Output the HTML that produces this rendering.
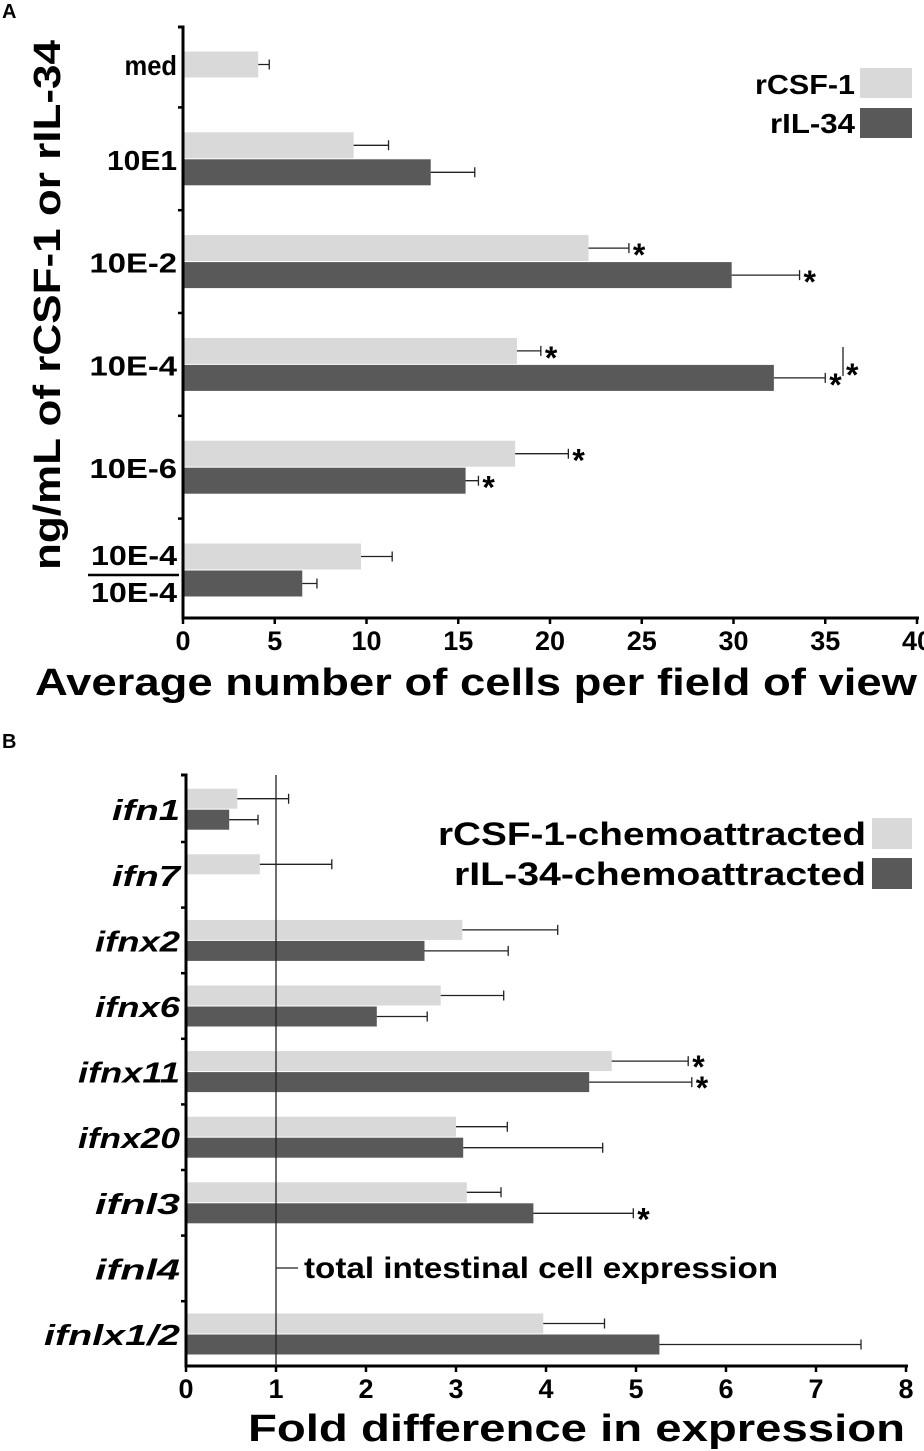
<!DOCTYPE html>
<html><head><meta charset="utf-8"><style>
body{margin:0;background:#fff}
svg{display:block;font-family:"Liberation Sans",Arial,sans-serif;font-weight:bold}
</style></head><body>
<svg id="fig" width="924" height="1451" viewBox="0 0 924 1451">
<text x="2" y="18" font-size="20">A</text>
<text x="2" y="748" font-size="20">B</text>
<g id="ga"></g>
<g id="gb"></g>
</svg>
<script>
const catsA=["med","10E1","10E-2","10E-4","10E-6","10E-4/10E-4"];
const csfA=[4.1,9.3,22.1,18.2,18.1,9.7];
const csfErrA=[4.7,11.2,24.3,19.5,21.0,11.4];
const ilA=[null,13.5,29.9,32.2,15.4,6.5];
const ilErrA=[null,15.9,33.6,35.0,16.1,7.3];
const csfStarA=[0,0,1,1,1,0];
const ilStarA=[0,0,1,1,1,0];
const ticksA=[0,5,10,15,20,25,30,35,40];

const catsB=["ifn1","ifn7","ifnx2","ifnx6","ifnx11","ifnx20","ifnl3","ifnl4","ifnlx1/2"];
const csfB=[0.57,0.82,3.07,2.83,4.73,3.0,3.12,null,3.97];
const csfErrB=[1.14,1.62,4.13,3.53,5.58,3.57,3.5,null,4.65];
const ilB=[0.48,null,2.65,2.12,4.48,3.08,3.86,null,5.26];
const ilErrB=[0.80,null,3.58,2.68,5.62,4.63,4.97,null,7.5];
const csfStarB=[0,0,0,0,1,0,0,0,0];
const ilStarB=[0,0,0,0,1,0,1,0,0];
const ticksB=[0,1,2,3,4,5,6,7,8];

const NS="http://www.w3.org/2000/svg";
function mk(parent,tag,attrs,txt){const e=document.createElementNS(NS,tag);for(const k in attrs)e.setAttribute(k,attrs[k]);if(txt!==undefined)e.textContent=txt;parent.appendChild(e);return e;}
function fitText(parent,attrs,txt,len){attrs.textLength=len;attrs.lengthAdjust='spacingAndGlyphs';return mk(parent,'text',attrs,txt);}
const LIGHT="#d9d9d9",DARK="#595959";

function drawChart(g,o){
  const x=v=>o.x0+(v-o.min)*(o.x1-o.x0)/(o.max-o.min);
  const yc=i=>{let c=o.yLast-(o.cats.length-1-i)*o.step; if(i===0&&o.firstShift) c+=o.firstShift; return c;};
  const sy=y=>y+o.bh/2+o.starOff;
  o.cats.forEach((c,i)=>{
    const c0=yc(i);
    [[o.csf,o.csfErr,o.csfStar,LIGHT,-o.bh-0.5,'light'],[o.il,o.ilErr,o.ilStar,DARK,0.5,'dark']].forEach(s=>{
      const v=s[0][i]; if(v===null) return;
      const y=c0+s[4];
      const r=mk(g,'rect',{x:o.x0,y:y,width:x(v)-o.x0,height:o.bh,fill:s[3]});
      
      
      const e=s[1][i];
      if(e!==null){
        const ym=y+o.bh/2;
        const l=mk(g,'path',{d:`M${x(v)},${ym}H${x(e)}M${x(e)},${ym-5}V${ym+5}`,stroke:'#222','stroke-width':1.3,fill:'none'});
        
        
      }
      if(s[2][i]){
        const t=mk(g,'text',{x:x(e)+4,y:sy(y),'font-size':32},'*');
        
        
      }
    });
  });
  const ax=mk(g,'path',{d:`M${o.x0-5},${o.yTop}H${o.x0}V${o.yAxis}H${o.x1+2}`,stroke:'#000','stroke-width':3,fill:'none'});
  
  
  o.ticks.forEach(t=>{
    mk(g,'line',{x1:x(t),x2:x(t),y1:o.yAxis,y2:o.yAxis+6,stroke:'#000','stroke-width':2.5});
    const tl=mk(g,'text',{x:x(t),y:o.yAxis+32,'font-size':27,'text-anchor':'middle'},String(t));
    
    
  });
  for(let i=0;i<o.cats.length-1;i++){
    const yy=o.yLast-(o.cats.length-1-i)*o.step+o.step/2;
    mk(g,'line',{x1:o.x0-5,x2:o.x0,y1:yy,y2:yy,stroke:'#000','stroke-width':2.5});
  }
  o.cats.forEach((c,i)=>{
    const yy=yc(i)+o.labOff+(i===0&&o.labFirst?o.labFirst:0);
    if(c.includes('/')&&o.frac){
      const p=c.split('/');
      fitText(g,{x:o.x0-6,y:yy-16,'font-size':28,'text-anchor':'end'},p[0],86);
      mk(g,'line',{x1:88,x2:o.x0-4,y1:yy-6,y2:yy-6,stroke:'#000','stroke-width':2.5});
      fitText(g,{x:o.x0-6,y:yy+21,'font-size':28,'text-anchor':'end'},p[1],86);
    } else {
      const t=fitText(g,{x:o.x0-6,y:yy,'font-size':o.catSize,'text-anchor':'end','font-style':o.italic?'italic':'normal'},c,c.length*o.charW);
      
      
    }
  });
  return x;
}

const ga=document.getElementById('ga');
drawChart(ga,{cats:catsA,csf:csfA,csfErr:csfErrA,il:ilA,ilErr:ilErrA,csfStar:csfStarA,ilStar:ilStarA,ticks:ticksA,
  x0:183,x1:917,min:0,max:40,yLast:570,step:102.8,bh:26,yTop:27,yAxis:618,catSize:28,charW:17.5,frac:true,firstShift:22,labOff:11,labFirst:-14,starOff:18});
mk(ga,'line',{x1:843,x2:843,y1:347,y2:376,stroke:'#222','stroke-width':1.3});
mk(ga,'text',{x:846,y:386,'font-size':32},'*');
let t=fitText(ga,{x:35,y:695,'font-size':38},'Average number of cells per field of view',882);

t=fitText(ga,{x:0,y:0,'font-size':38,'text-anchor':'middle',transform:'translate(60,305) rotate(-90)'},'ng/mL of rCSF-1 or rIL-34',530);

fitText(ga,{x:755,y:94,'font-size':28},'rCSF-1',100);
mk(ga,'rect',{x:860,y:68,width:52,height:30,fill:LIGHT});
fitText(ga,{x:770,y:133,'font-size':28},'rIL-34',85);
mk(ga,'rect',{x:860,y:108,width:52,height:30,fill:DARK});

const gb=document.getElementById('gb');
const xb=drawChart(gb,{cats:catsB,csf:csfB,csfErr:csfErrB,il:ilB,ilErr:ilErrB,csfStar:csfStarB,ilStar:ilStarB,ticks:ticksB,
  x0:186,x1:906,min:0,max:8,yLast:1334,step:65.6,bh:20,yTop:775,yAxis:1366,catSize:29,charW:17,italic:true,labOff:11,starOff:17});
mk(gb,'line',{x1:xb(1),x2:xb(1),y1:775,y2:1366,stroke:'#222','stroke-width':1.3});
mk(gb,'line',{x1:xb(1),x2:298,y1:1268,y2:1268,stroke:'#222','stroke-width':1.3});
fitText(gb,{x:304,y:1278,'font-size':30},'total intestinal cell expression',474);
t=fitText(gb,{x:248,y:1441,'font-size':38},'Fold difference in expression',657);

fitText(gb,{x:438,y:845,'font-size':32},'rCSF-1-chemoattracted',428);
mk(gb,'rect',{x:872,y:818,width:40,height:31,fill:LIGHT});
fitText(gb,{x:454,y:885,'font-size':32},'rIL-34-chemoattracted',412);
mk(gb,'rect',{x:872,y:858,width:40,height:31,fill:DARK});
</script>
</body></html>
